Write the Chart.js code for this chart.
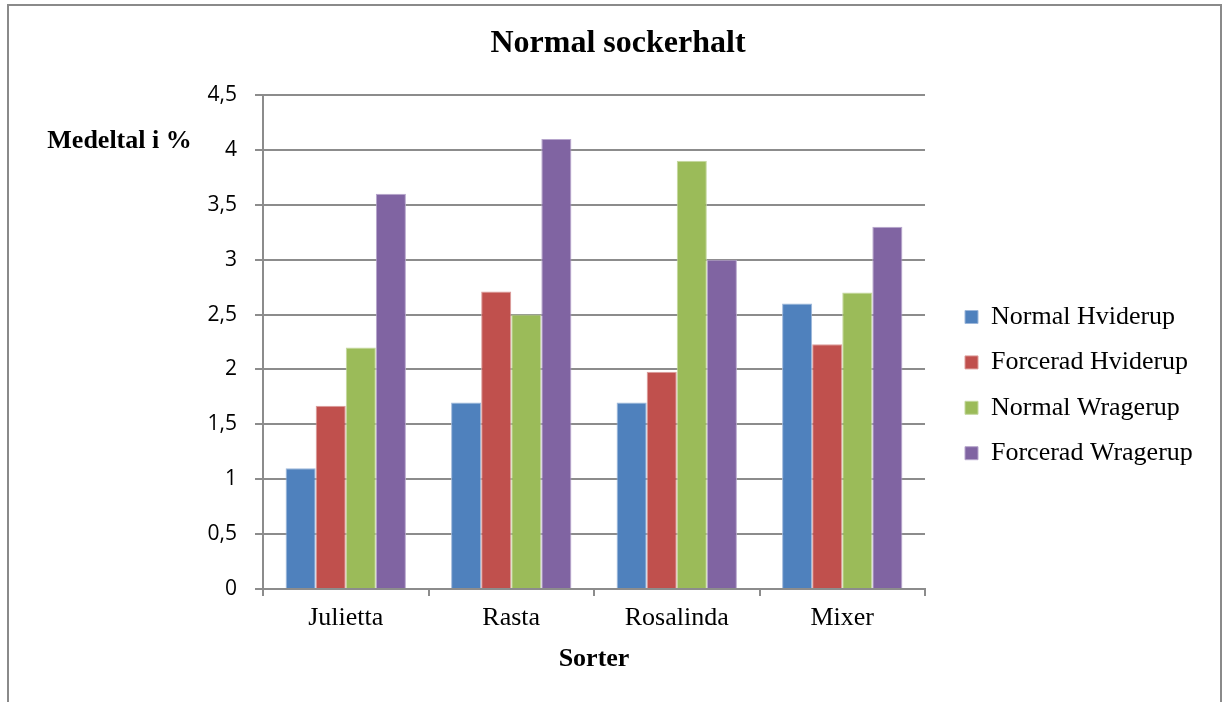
<!DOCTYPE html>
<html lang="sv">
<head>
<meta charset="utf-8">
<title>Normal sockerhalt</title>
<script src="https://cdn.jsdelivr.net/npm/chart.js@4.4.1/dist/chart.umd.min.js"></script>
<style>
  html, body { margin: 0; padding: 0; background: #ffffff; }
  canvas { display: block; }
</style>
</head>
<body>
<canvas id="chart" width="1223" height="702"></canvas>
<script>
// Sorter (categories) and mean sugar content per treatment, in %
const categories = ['Julietta', 'Rasta', 'Rosalinda', 'Mixer'];
const normalHviderup   = [1.1, 1.7, 1.7, 2.6];
const forceradHviderup = [1.67, 2.71, 1.98, 2.23];
const normalWragerup   = [2.2, 2.5, 3.9, 2.7];
const forceradWragerup = [3.6, 4.1, 3.0, 3.3];

const seriesNames = ['Normal Hviderup', 'Forcerad Hviderup', 'Normal Wragerup', 'Forcerad Wragerup'];
const yTickLabels = ['0', '0,5', '1', '1,5', '2', '2,5', '3', '3,5', '4', '4,5'];

const serif = "'Liberation Serif', 'Times New Roman', serif";
const sans = "'Open Sans', 'Lato', sans-serif";
const gridGray = '#8c8c8c';

const colors = ['#4F81BD', '#C0504D', '#9BBB59', '#8064A2'];
const edges  = ['#9db7da', '#dc9c9a', '#c4d89e', '#b6a5cc'];
const values = [normalHviderup, forceradHviderup, normalWragerup, forceradWragerup];

// Outer frame around the whole chart
const framePlugin = {
  id: 'frame',
  beforeDraw(chart) {
    const ctx = chart.ctx;
    ctx.save();
    ctx.strokeStyle = '#8a8a8a';
    ctx.lineWidth = 2;
    ctx.strokeRect(8, 5, 1213, 720);
    ctx.restore();
  }
};

// Horizontal y-axis caption to the left of the tick labels
const yCaptionPlugin = {
  id: 'yCaption',
  afterDraw(chart) {
    const ctx = chart.ctx;
    ctx.save();
    ctx.font = "bold 26px " + serif;
    ctx.fillStyle = '#000';
    ctx.textAlign = 'center';
    ctx.textBaseline = 'alphabetic';
    ctx.fillText('Medeltal i %', 119.5, 148);
    ctx.restore();
  }
};

// Place the legend block at its fixed spot right of the plot
const legendPlacePlugin = {
  id: 'legendPlace',
  afterLayout(chart) {
    const lg = chart.legend;
    if (!lg) return;
    const pad = lg.options.labels.padding;
    const h = lg.height;
    lg.left = 965 - pad;
    lg.top = 317 - 13 - pad;
    lg.right = 1221;
    lg.width = lg.right - lg.left;
    lg.bottom = lg.top + h;
  }
};

new Chart(document.getElementById('chart'), {
  type: 'bar',
  data: {
    labels: categories,
    datasets: seriesNames.map((name, i) => ({
      label: name,
      data: values[i],
      backgroundColor: colors[i],
      borderColor: edges[i],
      borderWidth: 1,
      categoryPercentage: 0.727,
      barPercentage: 1.0
    }))
  },
  options: {
    responsive: false,
    animation: false,
    devicePixelRatio: 1,
    layout: { padding: { left: 71, right: 58, top: 0, bottom: 27.4 } },
    plugins: {
      title: {
        display: true,
        text: 'Normal sockerhalt',
        color: '#000',
        font: { family: serif, size: 32, weight: 'bold', lineHeight: 1.2 },
        padding: { top: 24.3, bottom: 32.3 }
      },
      legend: {
        display: true,
        position: 'right',
        align: 'start',
        fullSize: false,
        maxWidth: 240,
        labels: {
          color: '#000',
          font: { family: serif, size: 26 },
          boxWidth: 13,
          boxHeight: 13,
          padding: 19.4
        }
      },
      tooltip: { enabled: false }
    },
    scales: {
      x: {
        grid: {
          display: true,
          offset: true,
          drawOnChartArea: false,
          drawTicks: true,
          tickLength: 7,
          color: gridGray,
          lineWidth: 2
        },
        border: { display: true, color: gridGray, width: 2 },
        ticks: {
          color: '#000',
          font: { family: serif, size: 26, lineHeight: 1.2 },
          padding: 6.4,
          maxRotation: 0
        },
        title: {
          display: true,
          text: 'Sorter',
          color: '#000',
          font: { family: serif, size: 26, weight: 'bold', lineHeight: 1.2 },
          padding: { top: 3.4, bottom: 0 }
        }
      },
      y: {
        min: 0,
        max: 4.5,
        afterFit(scale) { scale.width = 192; },
        grid: {
          color: gridGray,
          lineWidth: 2,
          drawTicks: true,
          tickLength: 8
        },
        border: { display: true, color: gridGray, width: 2 },
        ticks: {
          stepSize: 0.5,
          color: '#000',
          font: { family: sans, size: 21 },
          padding: 18,
          callback: (value, index) => yTickLabels[index]
        }
      }
    }
  },
  plugins: [framePlugin, yCaptionPlugin, legendPlacePlugin]
});
</script>
</body>
</html>
